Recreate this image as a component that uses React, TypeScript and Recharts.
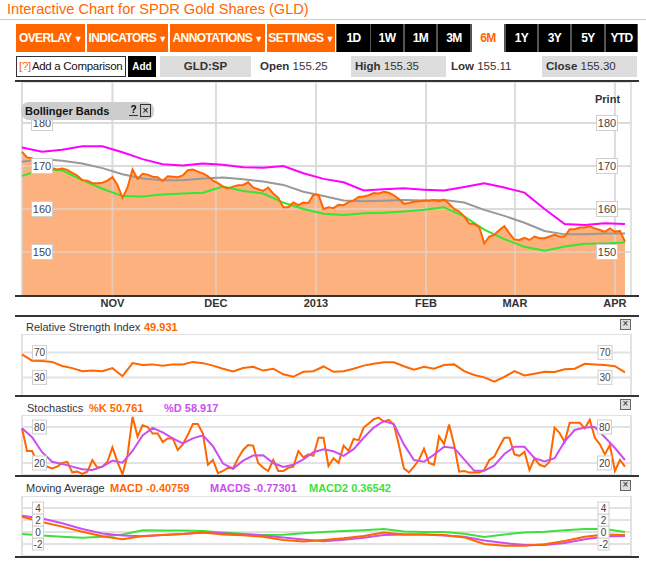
import { ComposedChart, LineChart, Line, Area, XAxis, YAxis, CartesianGrid, ReferenceLine } from 'recharts';

const FONT = '"Liberation Sans", Arial, Helvetica, sans-serif';
const ORANGE = '#ff6600';
const VIOLET = '#cc4eee';
const GREEN = '#3ee03e';

// 121 trading sessions, Oct 2012 - early Apr 2013
const SESSIONS = 121;
const monthTicks = [0, 18, 38.6, 58.5, 80.4, 98.1, 118];
const monthLabels = ['', 'NOV', 'DEC', '2013', 'FEB', 'MAR', 'APR'];
const priceTicks = [150, 160, 170, 180];

const closes = [
  173.3, 172.0, 171.8, 170.5, 170.0, 169.7, 169.5, 169.2, 169.4, 169.1,
  168.4, 167.8, 166.7, 166.6, 166.0, 166.0, 166.1, 166.6, 167.4, 165.6,
  162.6, 165.0, 169.2, 167.0, 168.2, 168.0, 167.5, 167.4, 166.5, 167.6,
  167.5, 167.4, 167.8, 169.0, 169.2, 168.7, 168.3, 167.6, 166.6, 166.0,
  165.2, 164.8, 165.2, 165.5, 165.6, 166.2, 165.0, 164.6, 164.2, 165.0,
  163.6, 162.6, 160.4, 160.4, 161.5, 160.9, 161.5, 161.4, 163.3, 163.3,
  160.0, 160.4, 160.2, 161.0, 160.9, 161.6, 162.0, 162.8, 162.9, 163.2,
  163.7, 163.6, 164.0, 163.8, 163.2, 162.3, 161.2, 161.4, 161.7, 161.8,
  162.0, 161.9, 162.1, 161.8, 162.2, 161.2, 160.0, 159.4, 158.3, 156.6,
  156.5, 155.8, 152.0, 153.6, 154.0, 155.1, 156.0, 154.3, 152.9, 152.8,
  153.3, 152.8, 153.6, 153.2, 153.2, 153.6, 154.0, 153.6, 153.6, 155.3,
  155.3, 155.7, 155.7, 156.0, 155.5, 155.1, 154.7, 155.5, 154.7, 154.9,
  152.4,
];

// bands sampled every 4 sessions
const upperBand = [
  174.3, 173.3, 173.8, 174.6, 174.6, 173.2, 171.6, 170.4, 170.1, 170.6, 170.3,
  169.7, 169.6, 170.0, 168.3, 167.0, 166.2, 164.3, 164.6, 164.8, 164.5, 164.3,
  165.1, 166.0, 165.0, 163.8, 160.0, 156.5, 156.3, 156.7, 156.5,
];
const middleBand = [
  171.0, 171.6, 171.2, 170.6, 169.5, 168.1, 167.1, 166.7, 166.7, 167.1, 167.3,
  166.9, 166.4, 165.6, 164.0, 163.0, 162.0, 161.8, 161.9, 162.1, 162.0, 162.1,
  161.5, 159.8, 158.4, 156.8, 154.9, 154.1, 154.1, 154.3, 154.3,
];
const lowerBand = [
  167.7, 169.2, 169.0, 166.7, 164.7, 163.0, 162.9, 163.4, 163.6, 163.8, 165.2,
  164.2, 163.6, 161.5, 160.0, 158.9, 158.6, 159.0, 159.1, 159.4, 159.8, 160.4,
  158.3, 155.2, 153.0, 151.2, 150.3, 151.3, 151.9, 152.0, 152.2,
];

// every 2 sessions
const rsi = [
  67, 57, 56.5, 55, 48.5, 45, 40, 41, 40, 45,
  32, 53, 50, 51, 49, 51, 51, 55, 53, 49,
  44, 39.5, 45, 47, 41, 44, 35, 31, 39, 40,
  47.6, 39, 40, 44, 49, 52, 54.5, 54.5, 48, 42.5,
  47, 44, 50, 51, 40, 34, 30, 23, 30.7, 40,
  33, 36, 39, 38.6, 43, 44, 52, 51, 50, 48,
  38,
];

const stochK = [
  77.8, 40, 40, 22, 23, 14, 11, 14, 20, 22,
  4.4, 5.6, 2, 5.6, 25, 12, 14, 22, 46, 22,
  1, 33, 97, 64, 83, 80, 69, 69, 55, 61,
  61, 41.7, 51, 67, 85, 85, 69, 17, 25, 3,
  6.7, 12, 11, 27.8, 41.7, 50, 49, 20, 12, 6.7,
  25, 6.7, 6.7, 12, 14, 40, 29.4, 34.4, 32, 62,
  62, 15, 27.8, 20, 49, 40, 60, 58, 79, 86,
  93, 95.6, 89, 92, 84, 50, 11, 4.4, 14, 25,
  44, 20, 17, 64.4, 51.7, 84, 50, 5.6, 6.7, 4,
  4, 4, 8.3, 25, 30.6, 47, 62, 62, 34.4, 32,
  38.9, 8.3, 27.8, 17, 14, 22, 79, 70, 55, 87,
  87, 87, 77.8, 92, 62, 51, 34.4, 50, 6.7, 25,
  14,
];
const stochD = [
  77.8, 63, 38, 22, 18.5, 14, 9.5, 8.5, 14, 24,
  20.5, 40, 66, 78.5, 71, 61, 52.5, 61, 66, 48,
  19, 10.5, 24, 32.5, 33, 20, 13.5, 17, 26, 38,
  43, 39.5, 32, 43, 62, 79, 90, 85, 51, 25,
  22, 34, 47, 45, 26, 7, 7, 16, 35, 47,
  47, 28, 22.5, 28, 56, 75, 79, 80, 63, 45,
  25,
];

// every 4 sessions
const macd = [
  2.55, 1.65, 0.9, 0.05, -0.7, -1.2, -0.65, -0.5, -0.35, -0.1, -0.4,
  -0.55, -0.8, -1.35, -1.6, -1.35, -1.05, -0.65, -0.1, -0.4, -0.4, -0.5,
  -0.9, -2.0, -2.3, -2.3, -2.05, -1.5, -0.8, -0.4, -0.5,
];
const macdSignal = [
  2.7, 2.25, 1.45, 0.5, -0.25, -0.6, -0.7, -0.5, -0.35, -0.1, -0.2,
  -0.4, -0.6, -0.9, -1.25, -1.55, -1.3, -0.95, -0.5, -0.4, -0.4, -0.6,
  -0.8, -1.4, -1.85, -2.15, -2.15, -1.85, -1.2, -0.75, -0.67,
];
const macdHist = [
  -0.33, -0.6, -0.8, -0.95, -0.8, -0.4, 0.3, 0.25, 0.25, 0.15, -0.1,
  -0.3, -0.5, -0.45, -0.2, 0, 0.15, 0.3, 0.5, 0.1, 0, 0,
  -0.3, -0.85, -0.4, -0.1, 0.05, 0.3, 0.5, 0.5, 0,
];

function buildRows(series: Record<string, number[]>) {
  const rows: any[] = [];
  for (let i = 0; i < SESSIONS; i++) {
    const row: any = { x: i };
    for (const [key, vals] of Object.entries(series)) {
      const step = (SESSIONS - 1) / (vals.length - 1);
      if (i % step === 0) row[key] = vals[i / step];
    }
    rows.push(row);
  }
  return rows;
}

const priceRows = buildRows({ close: closes, upper: upperBand, middle: middleBand, lower: lowerBand });
const rsiRows = buildRows({ rsi });
const stochRows = buildRows({ k: stochK, d: stochD });
const macdRows = buildRows({ macd, signal: macdSignal, hist: macdHist });

const X_DOMAIN: [number, number] = [0, 121.2];
// y axes are 1px wide (a 0px axis draws no ticks)
const CHART_MARGIN = { top: 0, right: 14, left: 21, bottom: 0 };

function BoxTick(props: any) {
  const { y, payload, cx, w, h, size } = props;
  return (
    <g>
      <rect x={cx - w / 2} y={y - h / 2} width={w} height={h} fill="#fff" stroke="#cfcfcf" strokeWidth={1} />
      <text x={cx} y={y + size * 0.36} textAnchor="middle" fontSize={size} fill="#444" fontFamily={FONT}>
        {payload.value}
      </text>
    </g>
  );
}

function SideAxes({ domain, ticks, left, right, w, h, size }: any) {
  return [
    <YAxis
      key="l"
      domain={domain}
      ticks={ticks}
      interval={0}
      width={1}
      axisLine={false}
      tickLine={false}
      allowDataOverflow
      tick={(p: any) => <BoxTick {...p} cx={left} w={w} h={h} size={size} />}
    />,
    <YAxis
      key="r"
      yAxisId="r"
      orientation="right"
      domain={domain}
      ticks={ticks}
      interval={0}
      width={1}
      axisLine={false}
      tickLine={false}
      allowDataOverflow
      tick={(p: any) => <BoxTick {...p} cx={right} w={w} h={h} size={size} />}
    />,
  ];
}

function Rule({ y }: { y: number }) {
  return <div style={{ position: 'absolute', left: 15, width: 624, top: y - 1, height: 2, background: '#333' }} />;
}

function CloseBox({ x, y }: { x: number; y: number }) {
  return (
    <div
      style={{
        position: 'absolute', left: x, top: y, width: 9, height: 9, border: '1px solid #666',
        background: '#ddd', fontSize: 10, lineHeight: '8px', textAlign: 'center', color: '#222',
      }}
    >
      ×
    </div>
  );
}

function PanelTitle({ y, parts }: { y: number; parts: { text: string; x: number; color: string; bold?: boolean }[] }) {
  return (
    <>
      {parts.map((p) => (
        <div
          key={p.text}
          style={{
            position: 'absolute', left: p.x, top: y - 7, lineHeight: '14px', fontSize: 11,
            color: p.color, fontWeight: p.bold ? 'bold' : 'normal', whiteSpace: 'nowrap',
          }}
        >
          {p.text}
        </div>
      ))}
    </>
  );
}

const menuButtons = [
  { label: 'OVERLAY', x0: 16, x1: 85, kind: 'menu' },
  { label: 'INDICATORS', x0: 87, x1: 168, kind: 'menu' },
  { label: 'ANNOTATIONS', x0: 170, x1: 265, kind: 'menu' },
  { label: 'SETTINGS', x0: 267, x1: 335, kind: 'menu' },
  { label: '1D', x0: 337, x1: 370, kind: 'range' },
  { label: '1W', x0: 371, x1: 403, kind: 'range' },
  { label: '1M', x0: 405, x1: 436, kind: 'range' },
  { label: '3M', x0: 438, x1: 470, kind: 'range' },
  { label: '6M', x0: 472, x1: 504, kind: 'active' },
  { label: '1Y', x0: 506, x1: 537, kind: 'range' },
  { label: '3Y', x0: 539, x1: 570, kind: 'range' },
  { label: '5Y', x0: 572, x1: 604, kind: 'range' },
  { label: 'YTD', x0: 606, x1: 637, kind: 'range' },
];

function Toolbar() {
  return (
    <>
      <div style={{ position: 'absolute', left: 336, top: 24, width: 302, height: 28, background: '#555' }} />
      {menuButtons.map((b) => {
        const bg = b.kind === 'menu' ? ORANGE : b.kind === 'active' ? '#fff' : '#000';
        const fg = b.kind === 'active' ? ORANGE : '#fff';
        return (
          <div
            key={b.label}
            style={{
              position: 'absolute', left: b.x0, top: 24, width: b.x1 - b.x0, height: 28, background: bg,
              color: fg, fontWeight: 'bold', fontSize: 12, letterSpacing: -0.6, lineHeight: '28px',
              textAlign: 'center', whiteSpace: 'nowrap',
            }}
          >
            {b.label}
            {b.kind === 'menu' && <span style={{ fontSize: 9, marginLeft: 2 }}>▼</span>}
          </div>
        );
      })}
    </>
  );
}

function QuoteRow() {
  const box = { position: 'absolute' as const, top: 56, height: 21, lineHeight: '21px', fontSize: 11.5, color: '#333' };
  return (
    <>
      <div style={{ ...box, left: 16, width: 108, border: '1px solid #333', height: 19, lineHeight: '19px', background: '#fff', color: '#111', letterSpacing: -0.3 }}>
        <span style={{ color: ORANGE, marginLeft: 2, marginRight: 1 }}>[?]</span>Add a Comparison
      </div>
      <div style={{ ...box, left: 128, width: 28, background: '#000', color: '#fff', fontWeight: 'bold', textAlign: 'center', fontSize: 10 }}>Add</div>
      <div style={{ ...box, left: 160, width: 91, background: '#ddd', fontWeight: 'bold', textAlign: 'center' }}>GLD:SP</div>
      <div style={{ ...box, left: 260 }}><b>Open</b> 155.25</div>
      <div style={{ ...box, left: 351, width: 91, paddingLeft: 4, background: '#ddd' }}><b>High</b> 155.35</div>
      <div style={{ ...box, left: 451 }}><b>Low</b> 155.11</div>
      <div style={{ ...box, left: 542, width: 91, paddingLeft: 4, background: '#ddd' }}><b>Close</b> 155.30</div>
    </>
  );
}

function MonthTick(props: any) {
  const { x, payload } = props;
  const label = monthLabels[monthTicks.indexOf(payload.value)];
  return (
    <text x={x} y={225} textAnchor="middle" fontSize={11} fontWeight="bold" fill="#333" fontFamily={FONT}>
      {label}
    </text>
  );
}

function HiddenX() {
  return (
    <XAxis
      dataKey="x"
      type="number"
      domain={X_DOMAIN}
      ticks={monthTicks}
      height={0}
      tick={false}
      axisLine={false}
      tickLine={false}
    />
  );
}

const GRID = '#e2e2e2';

export default function App() {
  return (
    <div style={{ position: 'absolute', left: 0, top: 0, width: 646, height: 570, background: '#fff', fontFamily: FONT, overflow: 'hidden' }}>
      <div style={{ position: 'absolute', left: 7, top: 0, fontSize: 14.6, lineHeight: '18px', color: ORANGE, whiteSpace: 'nowrap' }}>
        Interactive Chart for SPDR Gold Shares (GLD)
      </div>
      <div style={{ position: 'absolute', left: 0, top: 19, width: 646, height: 1, background: '#ccc' }} />
      <Toolbar />
      <QuoteRow />

      {/* price + bollinger bands */}
      <div style={{ position: 'absolute', left: 0, top: 82 }}>
        <ComposedChart width={646} height={232} data={priceRows} margin={CHART_MARGIN}>
          <CartesianGrid stroke={GRID} strokeWidth={2} />
          <XAxis
            dataKey="x"
            type="number"
            domain={X_DOMAIN}
            ticks={monthTicks}
            height={18}
            axisLine={false}
            tickLine={false}
            tick={<MonthTick />}
            interval={0}
          />
          {SideAxes({ domain: [139.77, 189.53], ticks: priceTicks, left: 42, right: 607, w: 21, h: 15, size: 11 })}
          <Area dataKey="close" type="linear" fill="#fcb17f" fillOpacity={1} stroke="none" isAnimationActive={false} />
          {/* the grid shows through the filled area */}
          {priceTicks.map((v) => (
            <ReferenceLine key={`h${v}`} y={v} stroke="#d8d8d8" strokeOpacity={0.6} strokeWidth={2} />
          ))}
          {monthTicks.map((v) => (
            <ReferenceLine key={`v${v}`} x={v} stroke="#d8d8d8" strokeOpacity={0.6} strokeWidth={2} />
          ))}
          <Line dataKey="upper" type="linear" stroke="#ff00ff" strokeWidth={2} dot={false} connectNulls isAnimationActive={false} />
          <Line dataKey="middle" type="linear" stroke="#999" strokeWidth={2} dot={false} connectNulls isAnimationActive={false} />
          <Line dataKey="lower" type="linear" stroke="#33e633" strokeWidth={2} dot={false} connectNulls isAnimationActive={false} />
          <Line dataKey="close" type="linear" stroke={ORANGE} strokeWidth={2} dot={false} isAnimationActive={false} />
        </ComposedChart>
      </div>
      <div
        style={{
          position: 'absolute', left: 21, top: 102, width: 133, height: 18, background: '#cdcdcd', borderRadius: 8,
          fontSize: 11, fontWeight: 'bold', lineHeight: '18px', color: '#111',
        }}
      >
        <span style={{ marginLeft: 4 }}>Bollinger Bands</span>
      </div>
      <div style={{ position: 'absolute', left: 129, top: 104, width: 9, height: 11, borderBottom: '1px solid #333', fontSize: 10, fontWeight: 'bold', lineHeight: '11px', textAlign: 'center' }}>?</div>
      <div style={{ position: 'absolute', left: 140, top: 104, width: 9, height: 11, border: '1px solid #333', fontSize: 11, lineHeight: '10px', textAlign: 'center' }}>×</div>
      <div style={{ position: 'absolute', left: 595, top: 93, fontSize: 11, fontWeight: 'bold', color: '#333' }}>Print</div>
      <Rule y={81} />
      <Rule y={296} />

      {/* RSI */}
      <Rule y={316} />
      <PanelTitle
        y={327}
        parts={[
          { text: 'Relative Strength Index', x: 26, color: '#333' },
          { text: '49.931', x: 144, color: ORANGE, bold: true },
        ]}
      />
      <CloseBox x={620} y={319} />
      <div style={{ position: 'absolute', left: 0, top: 334 }}>
        <LineChart width={646} height={62} data={rsiRows} margin={CHART_MARGIN}>
          <CartesianGrid stroke={GRID} strokeWidth={2} />
          <HiddenX />
          {SideAxes({ domain: [0, 100], ticks: [30, 70], left: 39.5, right: 605, w: 14, h: 14, size: 10 })}
          <Line dataKey="rsi" type="linear" stroke={ORANGE} strokeWidth={2} dot={false} connectNulls isAnimationActive={false} />
        </LineChart>
      </div>

      {/* Stochastics */}
      <Rule y={396} />
      <PanelTitle
        y={408}
        parts={[
          { text: 'Stochastics', x: 27, color: '#333' },
          { text: '%K 50.761', x: 89, color: ORANGE, bold: true },
          { text: '%D 58.917', x: 164, color: VIOLET, bold: true },
        ]}
      />
      <CloseBox x={620} y={399} />
      <div style={{ position: 'absolute', left: 0, top: 415 }}>
        <LineChart width={646} height={60} data={stochRows} margin={CHART_MARGIN}>
          <CartesianGrid stroke={GRID} strokeWidth={2} />
          <HiddenX />
          {SideAxes({ domain: [0, 100], ticks: [20, 80], left: 39.5, right: 604.5, w: 14, h: 14, size: 10 })}
          <Line dataKey="k" type="linear" stroke={ORANGE} strokeWidth={2} dot={false} connectNulls isAnimationActive={false} />
          <Line dataKey="d" type="linear" stroke={VIOLET} strokeWidth={2} dot={false} connectNulls isAnimationActive={false} />
        </LineChart>
      </div>

      {/* MACD */}
      <Rule y={476} />
      <PanelTitle
        y={488}
        parts={[
          { text: 'Moving Average', x: 26, color: '#333' },
          { text: 'MACD -0.40759', x: 110, color: ORANGE, bold: true },
          { text: 'MACDS -0.77301', x: 210, color: VIOLET, bold: true },
          { text: 'MACD2 0.36542', x: 309, color: GREEN, bold: true },
        ]}
      />
      <CloseBox x={620} y={480} />
      <div style={{ position: 'absolute', left: 0, top: 496 }}>
        <LineChart width={646} height={60} data={macdRows} margin={CHART_MARGIN}>
          <CartesianGrid stroke={GRID} strokeWidth={2} />
          <HiddenX />
          {SideAxes({ domain: [-4, 6], ticks: [-2, 0, 2, 4], left: 38, right: 603.5, w: 11, h: 12, size: 10 })}
          <Line dataKey="hist" type="linear" stroke={GREEN} strokeWidth={2} dot={false} connectNulls isAnimationActive={false} />
          <Line dataKey="signal" type="linear" stroke={VIOLET} strokeWidth={2} dot={false} connectNulls isAnimationActive={false} />
          <Line dataKey="macd" type="linear" stroke={ORANGE} strokeWidth={2} dot={false} connectNulls isAnimationActive={false} />
        </LineChart>
      </div>
      <Rule y={557} />
    </div>
  );
}
